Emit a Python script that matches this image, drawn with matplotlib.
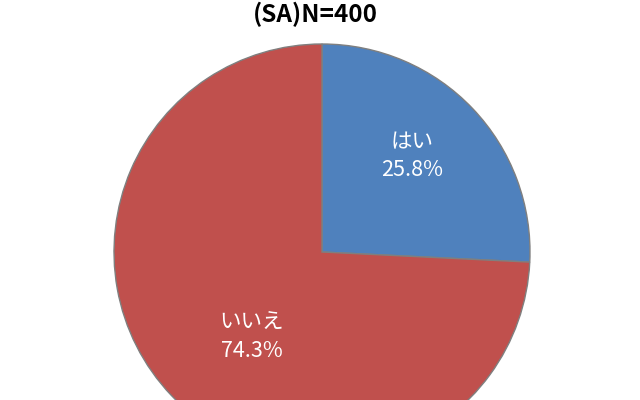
import matplotlib.pyplot as plt

plt.rcParams['font.family'] = ['Noto Sans CJK JP', 'DejaVu Sans']

categories = ['はい', 'いいえ']
values = [25.8, 74.3]
colors = ['#4F81BD', '#C0504D']
title = '(SA)N=400'

W, H = 640, 400
cx, cy, r = 322, 252, 208


def px(x, y):
    # pixel (from top-left) -> data coords of a unit pie
    return (x - cx) / r, (cy - y) / r


fig = plt.figure(figsize=(W / 100, H / 100), dpi=100)
ax = fig.add_axes([0, 0, 1, 1])

ax.pie(values, colors=colors, startangle=90, counterclock=False,
       wedgeprops=dict(edgecolor='#7F7F7F', linewidth=1.0))

ax.set_aspect('auto')
ax.set_xlim(px(0, 0)[0], px(W, 0)[0])
ax.set_ylim(px(0, H)[1], px(0, 0)[1])
ax.axis('off')

# label positions (pixels)
label_pos = [(412, 142, 170), (252, 323, 351)]
for cat, val, (lx, ly1, ly2) in zip(categories, values, label_pos):
    ax.text(*px(lx, ly1), cat, ha='center', va='center', color='white', fontsize=15.5)
    ax.text(*px(lx, ly2), f'{val}%', ha='center', va='center', color='white', fontsize=15.5)

fig.text(315 / W, 1 - 14 / H, title, ha='center', va='center',
         fontsize=17.5, fontweight='bold')

fig.savefig('out.png', dpi=100)
